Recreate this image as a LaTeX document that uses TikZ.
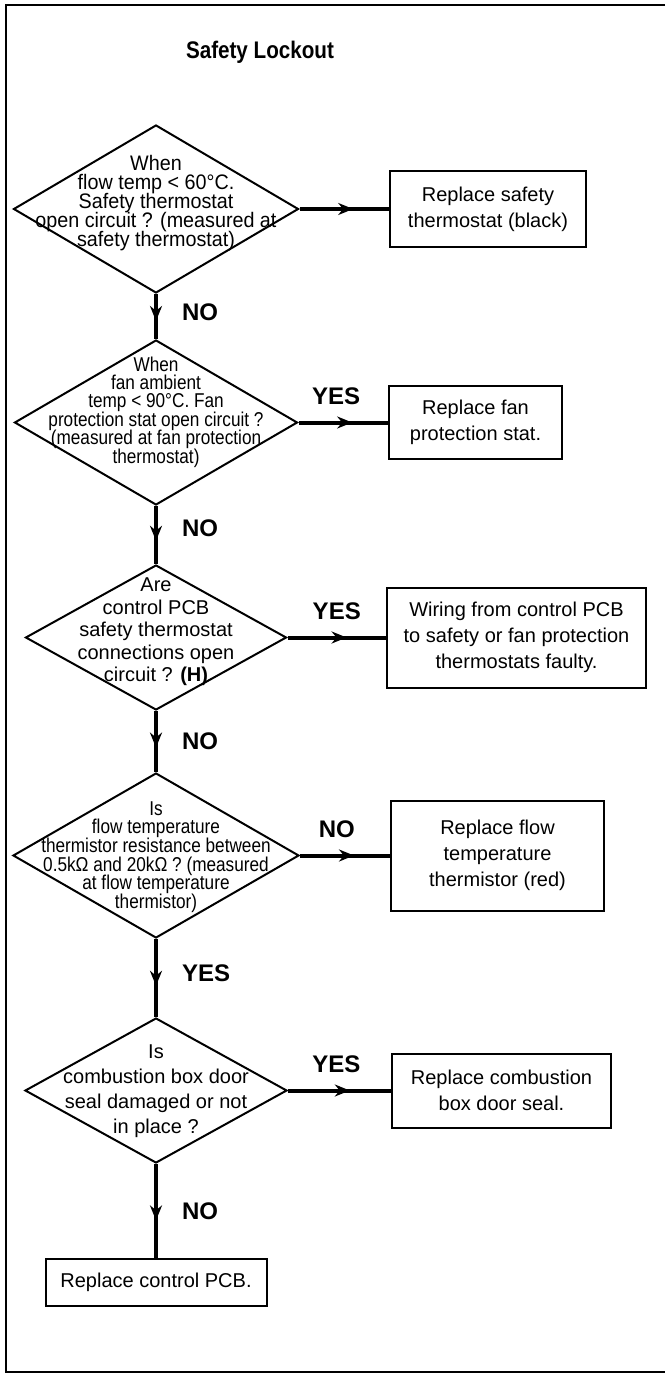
\documentclass[tikz,border=0pt]{standalone}
\usepackage{fontspec}
\setmainfont{Liberation Sans}
\newfontfamily\narrowfont{Liberation Sans}[FakeStretch=0.86]
\newfontfamily\semifont{Liberation Sans}[FakeStretch=0.94]
\newcommand\tightskip{\lineskiplimit=-6pt\relax}
\usetikzlibrary{shapes.geometric,decorations.markings,arrows.meta}

\begin{document}
\begin{tikzpicture}[x=0.5pt, y=-0.5pt,
    decision_style/.style={diamond, draw, line width=1pt, inner sep=0pt},
    dtext_style/.style={align=center, inner sep=0pt},
    action_style/.style={rectangle, draw, line width=1pt, align=center, inner sep=0pt, font=\fontsize{10}{13}\selectfont},
    label_style/.style={font=\fontsize{12}{14}\selectfont\bfseries, inner sep=0pt},
    flow_style/.style={line width=2pt, postaction={decorate},
        decoration={markings, mark=at position 0.6 with {\arrow{Stealth[length=7.5pt,width=6pt]}}}}
]
\useasboundingbox (0,0) rectangle (665,1374);
% open frame
\draw[line width=1.2pt] (665,5) -- (6,5) -- (6,1372) -- (665,1372);
\node[font=\narrowfont\fontsize{12}{14}\selectfont\bfseries] (title) at (260,52) {Safety Lockout};

% Questions
\node[decision_style, minimum width=142.5pt, minimum height=84pt] (d1) at (156,209) {};
\node[dtext_style, font={\semifont\fontsize{10.5}{9.6}\selectfont\tightskip}] (t1) at (156,203)
    {When\\flow temp < 60°C.\\Safety thermostat\\open circuit ? (measured at\\safety thermostat)};
\node[decision_style, minimum width=141.5pt, minimum height=82.5pt] (d2) at (156,422.5) {};
\node[dtext_style, font={\narrowfont\fontsize{10}{9.2}\selectfont\tightskip}] (t2) at (156,412)
    {When\\fan ambient\\temp < 90°C. Fan\\protection stat open circuit ?\\(measured at fan protection\\thermostat)};
\node[decision_style, minimum width=130.5pt, minimum height=72.5pt] (d3) at (156,637.5) {};
\node[dtext_style, font={\fontsize{10}{11.25}\selectfont\tightskip}] (t3) at (156,632)
    {Are\\control PCB\\safety thermostat\\connections open\\circuit ? \textbf{(H)}};
\node[decision_style, minimum width=143pt, minimum height=82.5pt] (d4) at (156,855.5) {};
\node[dtext_style, font={\narrowfont\fontsize{10}{9.3}\selectfont\tightskip}] (t4) at (156,857)
    {Is\\flow temperature\\thermistor resistance between\\0.5kΩ and 20kΩ ? (measured\\at flow temperature\\thermistor)};
\node[decision_style, minimum width=131pt, minimum height=72.5pt] (d5) at (156,1090.5) {};
\node[dtext_style, font={\fontsize{10}{12.5}\selectfont\tightskip}] (t5) at (156,1091)
    {Is\\combustion box door\\seal damaged or not\\in place ?};

% Actions
\node[action_style, anchor=west, minimum width=98pt, minimum height=38pt] (b1) at (389,209) {Replace safety\\thermostat (black)};
\node[action_style, anchor=west, minimum width=86.5pt, minimum height=36.5pt] (b2) at (388,422.5) {Replace fan\\protection stat.};
\node[action_style, anchor=west, minimum width=129.5pt, minimum height=50pt] (b3) at (386,637.5) {Wiring from control PCB\\to safety or fan protection\\thermostats faulty.};
\node[action_style, anchor=west, minimum width=106.5pt, minimum height=55pt] (b4) at (390,855.5) {Replace flow\\temperature\\thermistor (red)};
\node[action_style, anchor=west, minimum width=109.5pt, minimum height=37pt] (b5) at (391,1090.5) {Replace combustion\\box door seal.};
\node[action_style, minimum width=110.5pt, minimum height=23.5pt] (b6) at (156,1282.5) {Replace control PCB.};

% Connectors
\draw[flow_style] (d1.east) -- (b1.west);
\draw[flow_style] (d1.south) -- node[label_style, right=12pt, pos=0.4] {NO} (d2.north);
\draw[flow_style] (d2.east) -- node[label_style, above=8pt, pos=0.42] {YES} (b2.west);
\draw[flow_style] (d2.south) -- node[label_style, right=12pt, pos=0.38] {NO} (d3.north);
\draw[flow_style] (d3.east) -- node[label_style, above=8pt, pos=0.5] {YES} (b3.west);
\draw[flow_style] (d3.south) -- node[label_style, right=12pt, pos=0.5] {NO} (d4.north);
\draw[flow_style] (d4.east) -- node[label_style, above=8pt, pos=0.41] {NO} (b4.west);
\draw[flow_style] (d4.south) -- node[label_style, right=12pt, pos=0.44] {YES} (d5.north);
\draw[flow_style] (d5.east) -- node[label_style, above=8pt, pos=0.47] {YES} (b5.west);
\draw[flow_style] (d5.south) -- node[label_style, right=12pt, pos=0.5] {NO} (b6.north);
\end{tikzpicture}
\end{document}
